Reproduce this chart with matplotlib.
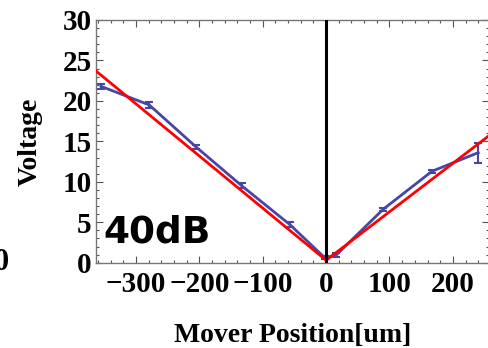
import matplotlib
matplotlib.use("Agg")
from matplotlib import pyplot as plt
from matplotlib.ticker import MultipleLocator

# measured data (blue)
pos = [-355, -279, -205, -133, -57, -2, 16, 90, 167, 240]
volt = [21.8, 19.5, 14.3, 9.5, 4.7, 0.6, 0.95, 6.6, 11.3, 13.6]
err = [0.3, 0.4, 0.3, 0.3, 0.3, 0.2, 0.2, 0.2, 0.2, 1.25]

# fit (red)
fit_x = [-363, 0, 257]
fit_y = [23.7, 0.3, 15.7]

serif = ['Liberation Serif', 'DejaVu Serif']

fig = plt.figure(figsize=(4.89, 3.48), dpi=100)
ax = fig.add_axes([96/489, 1 - 262.7/348, 393/489, 242.7/348])

ax.plot(fit_x, fit_y, color='#ff0000', lw=2.0, zorder=3)
ax.errorbar(pos, volt, yerr=err, color='#4646a6', lw=2.0, capsize=3,
            elinewidth=1.5, capthick=1.5, zorder=2)
ax.axvline(0, color='black', lw=2.2, zorder=4)

ax.set_xlim(-363, 257)
ax.set_ylim(0, 30)
ax.xaxis.set_major_locator(MultipleLocator(100))
ax.xaxis.set_minor_locator(MultipleLocator(20))
ax.yaxis.set_major_locator(MultipleLocator(5))
ax.yaxis.set_minor_locator(MultipleLocator(1))
ax.tick_params(which='both', direction='in', top=True, right=True,
               color='#555555', width=0.8)
ax.tick_params(which='major', length=5, labelsize=21)
ax.tick_params(axis='x', which='major', pad=6)
ax.tick_params(axis='y', which='major', pad=3)
ax.tick_params(which='minor', length=2.5)
for s in ax.spines.values():
    s.set_color('#777777')
    s.set_linewidth(1.0)
for lab in ax.get_xticklabels() + ax.get_yticklabels():
    lab.set_fontfamily(serif)
    lab.set_fontweight('bold')

ax.set_xlabel('Mover Position[um]', fontsize=20, fontweight='bold',
              family=serif, labelpad=18)
ax.set_ylabel('Voltage', fontsize=20, fontweight='bold', family=serif)
ax.yaxis.set_label_coords(-0.135, 0.5)

ax.text(0.018, 0.085, '40dB', transform=ax.transAxes, fontsize=27,
        fontweight='bold', family=['DejaVu Sans'], zorder=5)
fig.text(-0.012, 1 - 262/348, '0', fontsize=22, fontweight='bold',
         family=serif, va='center')

fig.savefig('out.png', dpi=100)
